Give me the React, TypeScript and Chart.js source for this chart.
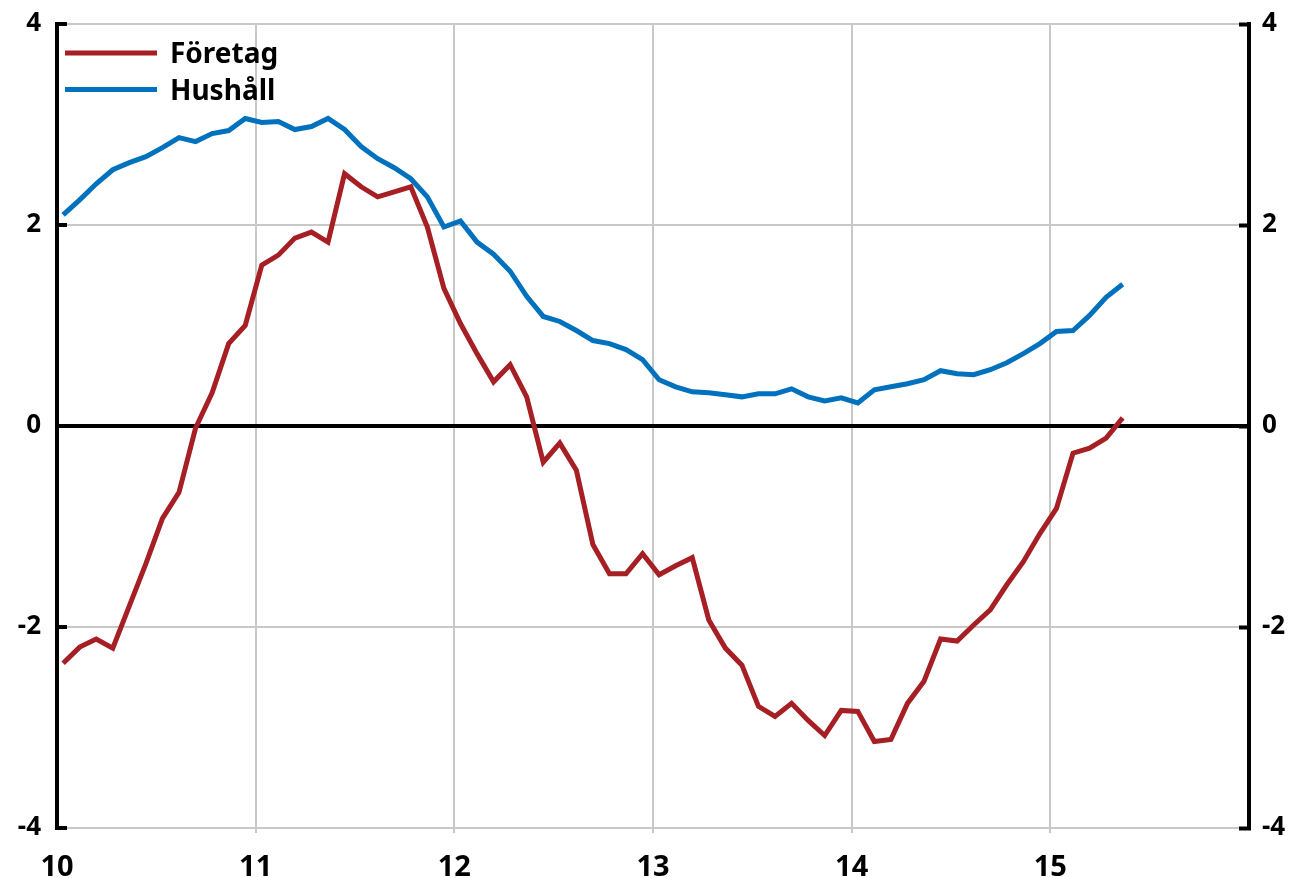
import React, { useEffect, useRef } from "react";
import { Chart, registerables } from "chart.js";

Chart.register(...registerables);

// Monthly observations, Jan 2010 – May 2015 (x axis in two-digit years)
const startYear = 10;
const monthOffset = 0.37; // position of observation inside the month
const foretag = [
  -2.36, -2.2, -2.12, -2.21, -1.79, -1.37, -0.92, -0.66, -0.02, 0.33,
  0.82, 1.0, 1.6, 1.7, 1.87, 1.93, 1.83, 2.51, 2.38, 2.28,
  2.33, 2.38, 1.98, 1.37, 1.02, 0.72, 0.44, 0.61, 0.29, -0.36,
  -0.17, -0.44, -1.18, -1.47, -1.47, -1.27, -1.48, -1.39, -1.31, -1.93,
  -2.21, -2.38, -2.79, -2.89, -2.76, -2.93, -3.08, -2.83, -2.84, -3.14,
  -3.12, -2.76, -2.54, -2.12, -2.14, -1.98, -1.83, -1.58, -1.35, -1.07,
  -0.82, -0.27, -0.22, -0.12, 0.08,
];
const hushall = [
  2.1, 2.25, 2.41, 2.55, 2.62, 2.68, 2.77, 2.87, 2.83, 2.91,
  2.94, 3.06, 3.02, 3.03, 2.95, 2.98, 3.06, 2.95, 2.78, 2.66,
  2.57, 2.46, 2.28, 1.98, 2.04, 1.83, 1.71, 1.54, 1.29, 1.09,
  1.04, 0.95, 0.85, 0.82, 0.76, 0.66, 0.46, 0.39, 0.34, 0.33,
  0.31, 0.29, 0.32, 0.32, 0.37, 0.29, 0.25, 0.28, 0.23, 0.36,
  0.39, 0.42, 0.46, 0.55, 0.52, 0.51, 0.56, 0.63, 0.72, 0.82,
  0.94, 0.95, 1.1, 1.28, 1.41,
];
const seriesLabels = ["Företag", "Hushåll"];
const seriesColors = ["#A51F24", "#0071BC"];
const xMin = 10;
const xMax = 16;
const xTickLabels = ["10", "11", "12", "13", "14", "15"];
const yMin = -4;
const yMax = 4;

const toPoints = (vals: number[]) =>
  vals.map((v, i) => ({ x: startYear + (i + monthOffset) / 12, y: v }));

const FONT = "'Noto Sans', 'DejaVu Sans', sans-serif";

const insideLegend = {
  id: "insideLegend",
  afterDraw(chart: any) {
    const { ctx, chartArea } = chart;
    ctx.save();
    chart.data.datasets.forEach((ds: any, i: number) => {
      const y = chartArea.top + 29 + i * 36.6;
      const x0 = chartArea.left + 8;
      ctx.strokeStyle = ds.borderColor;
      ctx.lineWidth = 5;
      ctx.beginPath();
      ctx.moveTo(x0, y);
      ctx.lineTo(x0 + 92, y);
      ctx.stroke();
      ctx.fillStyle = "#000";
      ctx.font = `bold 28px ${FONT}`;
      ctx.textBaseline = "alphabetic";
      ctx.textAlign = "left";
      ctx.fillText(ds.label, x0 + 105, y + 10);
    });
    ctx.restore();
  },
};

export default function App() {
  const ref = useRef<HTMLCanvasElement | null>(null);

  useEffect(() => {
    if (!ref.current) return;
    const gray = "#c8c8c8";
    const fitY = (w: number) => (s: any) => {
      s.width = w;
      s.paddingTop = 0;
      s.paddingBottom = 0;
    };
    const chart = new Chart(ref.current, {
      type: "line",
      data: {
        datasets: [
          {
            label: seriesLabels[0],
            data: toPoints(foretag),
            borderColor: seriesColors[0],
            borderWidth: 5,
            pointRadius: 0,
            tension: 0,
            fill: false,
          },
          {
            label: seriesLabels[1],
            data: toPoints(hushall),
            borderColor: seriesColors[1],
            borderWidth: 5,
            pointRadius: 0,
            tension: 0,
            fill: false,
          },
        ],
      },
      options: {
        animation: false,
        responsive: false,
        layout: { padding: { top: 24, left: 0, right: 0, bottom: 0 } },
        plugins: { legend: { display: false }, tooltip: { enabled: false } },
        scales: {
          x: {
            type: "linear",
            min: xMin,
            max: xMax,
            afterFit: (s: any) => {
              s.height = 50;
              s.paddingLeft = 0;
              s.paddingRight = 0;
            },
            border: { display: false },
            grid: {
              color: (c: any) =>
                c.tick && (c.tick.value === xMin || c.tick.value === xMax)
                  ? "rgba(0,0,0,0)"
                  : gray,
              lineWidth: 2,
              tickLength: 5,
            },
            ticks: {
              stepSize: 1,
              color: "#000",
              padding: 17,
              maxRotation: 0,
              autoSkip: false,
              font: { family: FONT, size: 29, weight: "bold" },
              callback: (v: any) => {
                const idx = Math.round(Number(v)) - xMin;
                return xTickLabels[idx] ?? "";
              },
            },
          },
          y: {
            position: "left",
            min: yMin,
            max: yMax,
            afterFit: fitY(57),
            border: { display: true, color: "#000", width: 4 },
            grid: {
              color: (c: any) => (c.tick && c.tick.value === 0 ? "#000" : gray),
              lineWidth: (c: any) => (c.tick && c.tick.value === 0 ? 4 : 2),
              tickLength: -10,
              tickColor: "#000",
              tickWidth: 4,
            },
            ticks: {
              stepSize: 2,
              color: "#000",
              padding: 26,
              font: { family: FONT, size: 26, weight: "bold" },
            },
          },
          y2: {
            position: "right",
            min: yMin,
            max: yMax,
            afterFit: fitY(43),
            border: { display: true, color: "#000", width: 4 },
            grid: {
              drawOnChartArea: false,
              tickLength: -10,
              tickColor: "#000",
              tickWidth: 4,
            },
            ticks: {
              stepSize: 2,
              color: "#000",
              padding: 23,
              font: { family: FONT, size: 26, weight: "bold" },
            },
          },
        },
      },
      plugins: [insideLegend],
    } as any);
    return () => chart.destroy();
  }, []);

  return (
    <div
      style={{
        position: "absolute",
        left: 0,
        top: 0,
        width: 1292,
        height: 878,
        background: "#fff",
      }}
    >
      <canvas ref={ref} width={1292} height={878} style={{ display: "block" }} />
    </div>
  );
}
